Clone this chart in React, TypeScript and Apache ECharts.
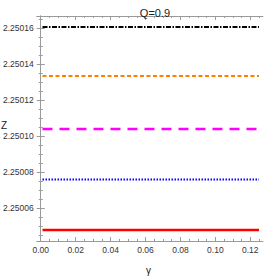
import React, { useEffect, useRef } from "react";
import * as echarts from "echarts";

const gammas = [0.001, 0.03, 0.06, 0.09, 0.125];
const blackSeries = [2.2501606, 2.2501606, 2.2501606, 2.2501606, 2.2501606];
const orangeSeries = [2.2501333, 2.2501333, 2.2501333, 2.2501333, 2.2501333];
const magentaSeries = [2.2501039, 2.2501039, 2.2501039, 2.2501039, 2.2501039];
const blueSeries = [2.2500759, 2.2500759, 2.2500759, 2.2500759, 2.2500759];
const redSeries = [2.2500478, 2.2500478, 2.2500478, 2.2500478, 2.2500478];

const xMajor = [0, 0.02, 0.04, 0.06, 0.08, 0.1, 0.12];
const xMinor = [0.005, 0.01, 0.015, 0.025, 0.03, 0.035, 0.045, 0.05, 0.055, 0.065, 0.07, 0.075, 0.085, 0.09, 0.095, 0.105, 0.11, 0.115, 0.125];
const yMajor = [2.25006, 2.25008, 2.2501, 2.25012, 2.25014, 2.25016];
const yMinor = [2.250045, 2.25005, 2.250055, 2.250065, 2.25007, 2.250075, 2.250085, 2.25009, 2.250095, 2.250105, 2.25011, 2.250115, 2.250125, 2.25013, 2.250135, 2.250145, 2.25015, 2.250155, 2.250165];

const X_MIN = -0.0023;
const X_MAX = 0.1273;
const Y_MIN = 2.2500417;
const Y_MAX = 2.2501667;

const FRAME = "#9a9a9a";
const LABEL = "#333";
const FONT = "'Liberation Sans Narrow', 'Arial Narrow', 'Liberation Sans', Arial, sans-serif";

export default function App() {
  const ref = useRef<HTMLDivElement>(null);
  useEffect(() => {
    if (!ref.current) return;
    const chart = echarts.init(ref.current, null, { renderer: "svg" });
    const mkX = (pos: string, vals: number[], len: number, labels: boolean, line: boolean) => ({
      type: "value",
      position: pos,
      min: X_MIN,
      max: X_MAX,
      axisLine: { show: line, lineStyle: { color: FRAME, width: 1 } },
      axisTick: { show: true, inside: true, length: len, customValues: vals, lineStyle: { color: FRAME } },
      axisLabel: labels
        ? { show: true, customValues: vals, formatter: (v: number) => v.toFixed(2), color: LABEL, fontSize: 8.5, fontFamily: FONT, margin: 4 }
        : { show: false },
      splitLine: { show: false },
    });
    const mkY = (pos: string, vals: number[], len: number, labels: boolean, line: boolean) => ({
      type: "value",
      position: pos,
      min: Y_MIN,
      max: Y_MAX,
      axisLine: { show: line, lineStyle: { color: FRAME, width: 1 } },
      axisTick: { show: true, inside: true, length: len, customValues: vals, lineStyle: { color: FRAME } },
      axisLabel: labels
        ? { show: true, customValues: vals, formatter: (v: number) => v.toFixed(5), color: LABEL, fontSize: 8.5, fontFamily: FONT, margin: 3 }
        : { show: false },
      splitLine: { show: false },
    });
    const mkSeries = (data: number[], color: string, width: number, type: any) => ({
      type: "line",
      xAxisIndex: 0,
      yAxisIndex: 0,
      data: gammas.map((g, i) => [g, data[i]]),
      showSymbol: false,
      symbol: "none",
      lineStyle: { color, width, type, cap: "butt" },
    });
    chart.setOption({
      animation: false,
      backgroundColor: "#fff",
      grid: { left: 35, right: 3, top: 16, bottom: 39, containLabel: false },
      title: {
        text: "Q=0.9",
        left: 150,
        top: 2,
        textAlign: "center",
        textStyle: { fontSize: 11, fontWeight: "normal", color: "#222", fontFamily: FONT },
      },
      graphic: [
        { type: "text", left: 1, top: 120, style: { text: "Z", fontSize: 10, fill: "#222", fontFamily: FONT } },
        { type: "text", left: 146, top: 265, style: { text: "γ", fontSize: 10, fill: "#222", fontFamily: FONT } },
      ],
      xAxis: [
        mkX("bottom", xMajor, 4, true, true),
        mkX("bottom", xMinor, 2, false, false),
        mkX("top", xMajor, 4, false, true),
        mkX("top", xMinor, 2, false, false),
      ],
      yAxis: [
        mkY("left", yMajor, 4, true, true),
        mkY("left", yMinor, 2, false, false),
        mkY("right", yMajor, 4, false, true),
        mkY("right", yMinor, 2, false, false),
      ],
      series: [
        mkSeries(blackSeries, "#000000", 2, [5, 1.5, 1.5, 1.5]),
        mkSeries(orangeSeries, "#ff8000", 2, [4, 2.5]),
        mkSeries(magentaSeries, "#ff00ff", 2.5, [10, 7]),
        mkSeries(blueSeries, "#0000ff", 2, [1.5, 1.5]),
        mkSeries(redSeries, "#ff0000", 2.5, "solid"),
      ],
    });
    return () => chart.dispose();
  }, []);
  return <div ref={ref} style={{ width: 266, height: 280, position: "absolute", left: 0, top: 0 }} />;
}
